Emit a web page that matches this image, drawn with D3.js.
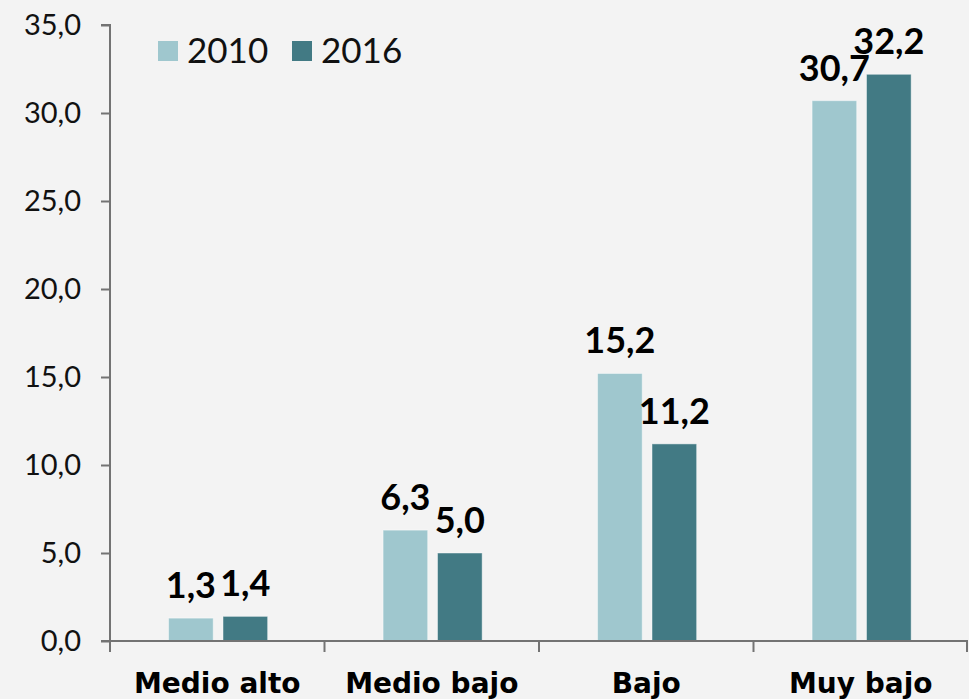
<!DOCTYPE html>
<html>
<head>
<meta charset="utf-8">
<script src="https://cdn.jsdelivr.net/npm/d3@7"></script>
<style>
  html, body { margin: 0; padding: 0; background: #f3f3f3; }
  svg { display: block; }
</style>
</head>
<body>
<svg id="chart"></svg>
<script>
const categories = ["Medio alto", "Medio bajo", "Bajo", "Muy bajo"];
const years = ["2010", "2016"];
const values2010 = [1.3, 6.3, 15.2, 30.7];
const values2016 = [1.4, 5.0, 11.2, 32.2];
const yTicks = [0, 5, 10, 15, 20, 25, 30, 35];

const size = { width: 969, height: 699 };
const margin = { top: 25, right: 1, bottom: 58, left: 110 };
const COLOR1 = "#9fc7ce";
const COLOR2 = "#427a84";
const AXIS = "#737373";

const data = categories.map((cat, i) => ({
  cat,
  vals: [
    { year: years[0], v: values2010[i] },
    { year: years[1], v: values2016[i] },
  ],
}));

const svg = d3.select("#chart")
  .attr("width", size.width)
  .attr("height", size.height);

svg.append("rect")
  .attr("width", size.width)
  .attr("height", size.height)
  .attr("fill", "#f3f3f3");

const x = d3.scaleBand()
  .domain(categories)
  .range([margin.left, size.width - margin.right])
  .padding(0);

const xs = d3.scaleBand()
  .domain(years)
  .range([x.bandwidth() * 0.273, x.bandwidth() * 0.735])
  .paddingInner(0.18)
  .paddingOuter(0);

const y = d3.scaleLinear()
  .domain([0, 35])
  .range([size.height - margin.bottom, margin.top]);

const color = d3.scaleOrdinal().domain(years).range([COLOR1, COLOR2]);

// y axis
const yAxis = svg.append("g")
  .attr("transform", `translate(${margin.left},0)`)
  .call(d3.axisLeft(y).tickValues(yTicks).tickSize(9).tickPadding(20)
    .tickFormat((d) => d3.format(".1f")(d).replace(".", ",")));
yAxis.selectAll("path, line").attr("stroke", AXIS).attr("stroke-width", 2);
yAxis.select(".domain").attr("d", `M-9,${y(35)}H0V${y(0)}`);
yAxis.selectAll("text")
  .attr("fill", "#111")
  .style("font-family", "Lato, sans-serif")
  .style("font-weight", 400)
  .style("font-size", "29px");

// bars
const groups = svg.append("g")
  .selectAll("g")
  .data(data)
  .enter()
  .append("g")
  .attr("transform", (d) => `translate(${x(d.cat)},0)`);

groups.selectAll("rect")
  .data((d) => d.vals)
  .enter()
  .append("rect")
  .attr("x", (d) => xs(d.year))
  .attr("width", xs.bandwidth())
  .attr("y", (d) => y(d.v))
  .attr("height", (d) => y(0) - y(d.v))
  .attr("fill", (d) => color(d.year))
  .attr("stroke", "#ffffff")
  .attr("stroke-opacity", 0.45)
  .attr("stroke-width", 1);

groups.selectAll("text.val")
  .data((d) => d.vals)
  .enter()
  .append("text")
  .attr("class", "val")
  .attr("x", (d) => xs(d.year) + xs.bandwidth() / 2)
  .attr("y", (d) => y(d.v) - 20)
  .attr("text-anchor", "middle")
  .style("font-family", "Lato, sans-serif")
  .style("font-weight", 700)
  .style("font-size", "36px")
  .attr("fill", "#000")
  .text((d) => d3.format(".1f")(d.v).replace(".", ","));

// x axis
const xAxisG = svg.append("g");
xAxisG.append("line")
  .attr("x1", margin.left - 9)
  .attr("x2", size.width - margin.right)
  .attr("y1", y(0))
  .attr("y2", y(0))
  .attr("stroke", AXIS)
  .attr("stroke-width", 2);

const bounds = categories.map((c) => x(c)).concat([x.range()[1] - 1]);
xAxisG.selectAll("line.tick")
  .data(bounds)
  .enter()
  .append("line")
  .attr("class", "tick")
  .attr("x1", (d) => d)
  .attr("x2", (d) => d)
  .attr("y1", y(0))
  .attr("y2", y(0) + 11)
  .attr("stroke", AXIS)
  .attr("stroke-width", 2);

xAxisG.selectAll("text")
  .data(categories)
  .enter()
  .append("text")
  .attr("x", (d) => x(d) + x.bandwidth() / 2)
  .attr("y", 693)
  .attr("text-anchor", "middle")
  .style("font-family", "'DejaVu Sans', sans-serif")
  .style("font-weight", 700)
  .style("font-size", "28px")
  .attr("fill", "#000")
  .text((d) => d);

// legend
const legend = svg.append("g").attr("transform", "translate(158,41)");
const legendX = d3.scaleOrdinal().domain(years).range([0, 134]);
const li = legend.selectAll("g")
  .data(years)
  .enter()
  .append("g")
  .attr("transform", (d) => `translate(${legendX(d)},0)`);
li.append("rect")
  .attr("width", 20)
  .attr("height", 20)
  .attr("fill", (d) => color(d));
li.append("text")
  .attr("x", 29)
  .attr("y", 22)
  .style("font-family", "Lato, sans-serif")
  .style("font-weight", 400)
  .style("font-size", "35px")
  .attr("fill", "#111")
  .text((d) => d);
</script>
</body>
</html>
